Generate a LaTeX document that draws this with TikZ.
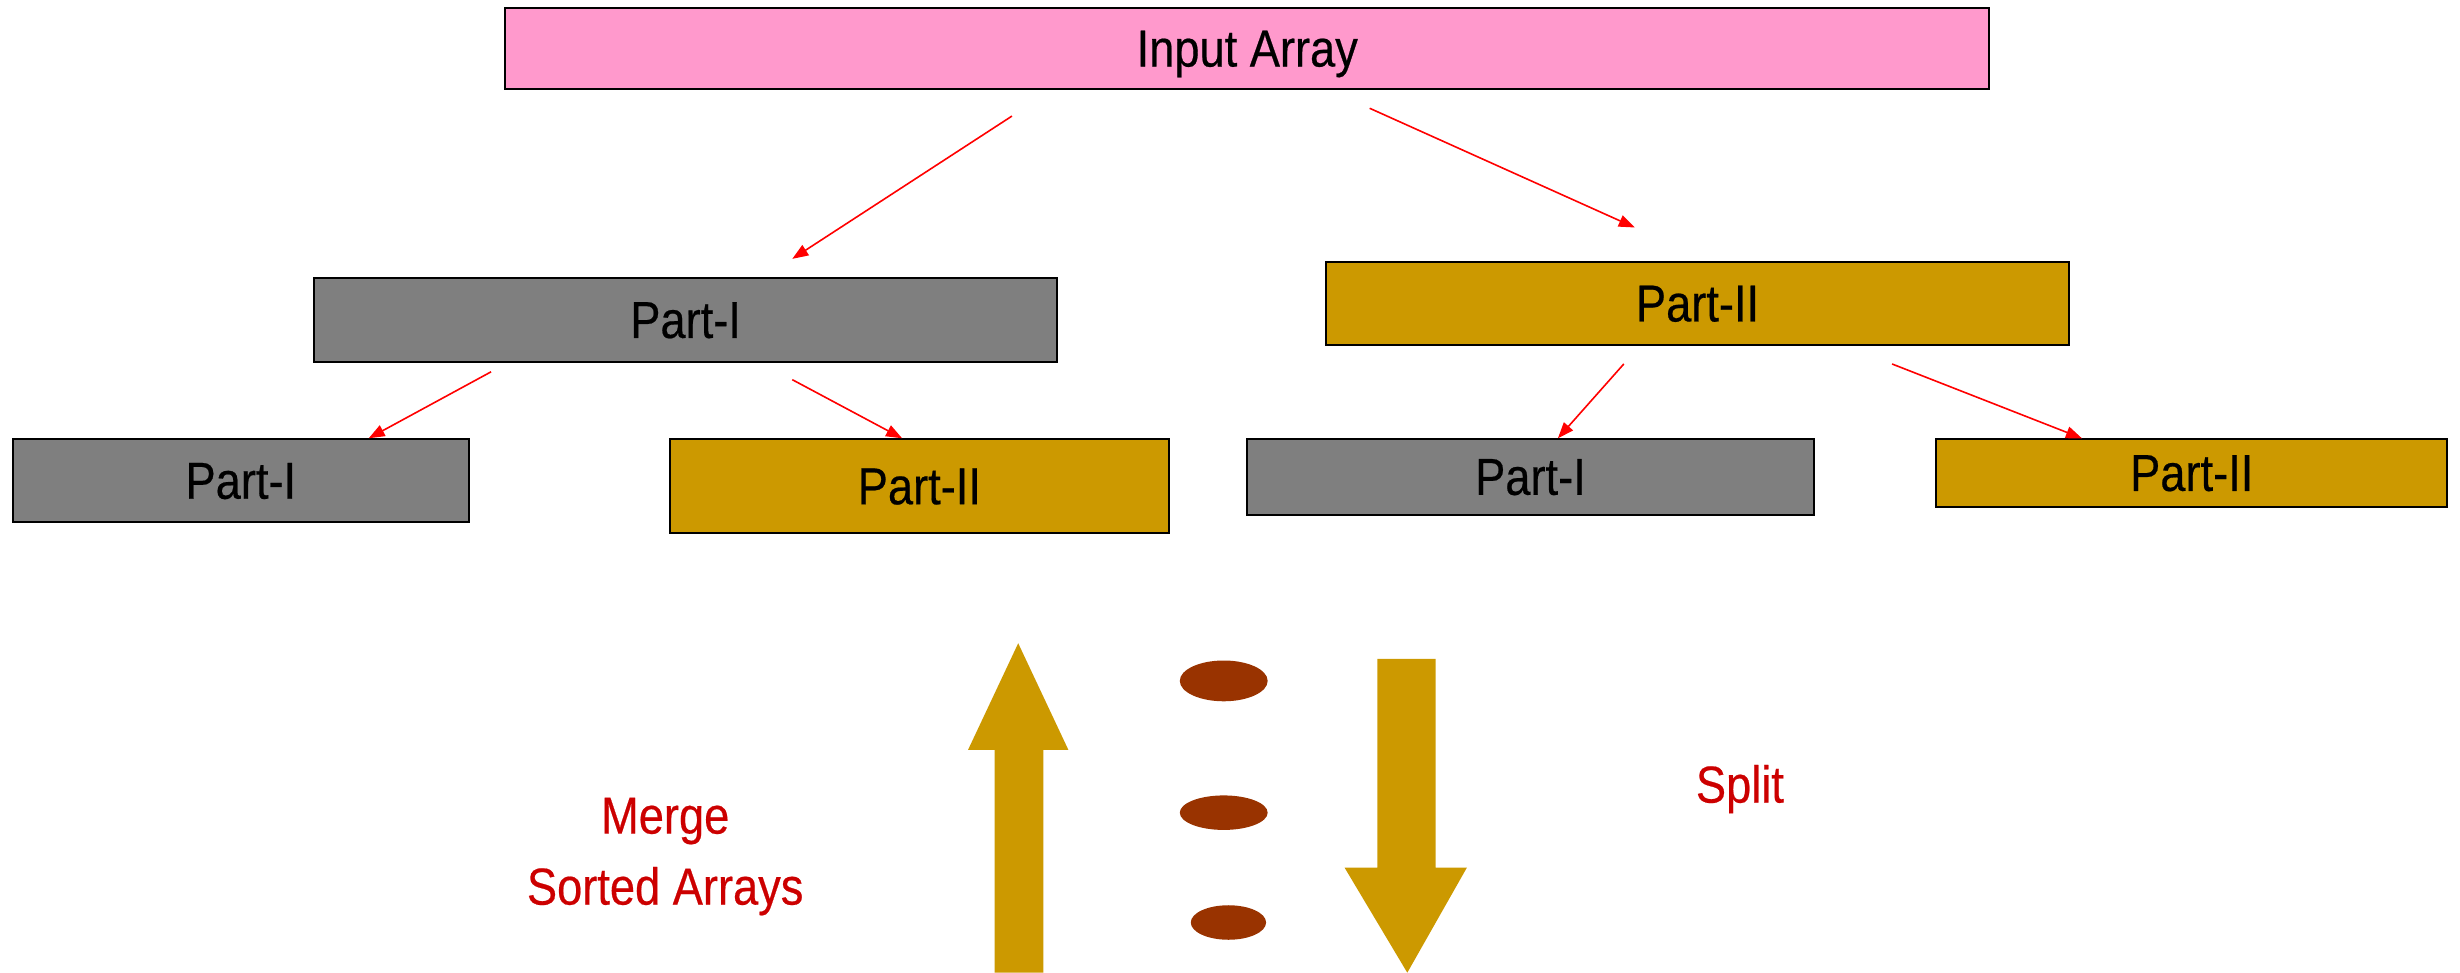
\documentclass[tikz,border=0pt]{standalone}
\usepackage{fontspec}
\setmainfont{Liberation Sans}[FakeStretch=0.87,FakeBold=0.4]
\usetikzlibrary{arrows.meta}
\definecolor{pinkbox}{HTML}{FF99CC}
\definecolor{graybox}{HTML}{7F7F7F}
\definecolor{goldbox}{HTML}{CC9900}
\definecolor{dotbrown}{HTML}{993300}
\definecolor{labelred}{HTML}{CC0000}
\tikzset{
  box/.style={draw=black, line width=1pt, inner sep=0pt, text depth=0pt, font=\fontsize{26}{30}\selectfont, text=black},
  pinkfill/.style={box, fill=pinkbox},
  grayfill/.style={box, fill=graybox},
  goldfill/.style={box, fill=goldbox},
  link/.style={draw=red, line width=0.8pt, -{Triangle[length=8pt,width=6pt]}},
  bigarrow/.style={fill=goldbox, draw=none},
  redlabel/.style={text=labelred, font=\fontsize{26}{35.5}\selectfont, align=center}
}
\begin{document}
\begin{tikzpicture}[x=0.7845pt, y=-0.7845pt]
\useasboundingbox (0,0) rectangle (1568,620);
% boxes
\node[pinkfill, minimum width=946*0.7845pt, minimum height=52*0.7845pt] (input) at (795,31) {Input Array};
\node[grayfill, minimum width=474*0.7845pt, minimum height=54*0.7845pt] (p1) at (437,204) {Part-I};
\node[goldfill, minimum width=474*0.7845pt, minimum height=53*0.7845pt] (p2) at (1082,193.5) {Part-II};
\node[grayfill, minimum width=291*0.7845pt, minimum height=53*0.7845pt] (p11) at (153.5,306.5) {Part-I};
\node[goldfill, minimum width=318*0.7845pt, minimum height=60*0.7845pt] (p12) at (586,310) {Part-II};
\node[grayfill, minimum width=361*0.7845pt, minimum height=48*0.7845pt] (p21) at (975.5,304) {Part-I};
\node[goldfill, minimum width=326*0.7845pt, minimum height=43*0.7845pt] (p22) at (1397,301.5) {Part-II};
% connector end points
\coordinate (a1s) at (645,74);
\coordinate (a1e) at (505,165);
\coordinate (a2s) at (873,69);
\coordinate (a2e) at (1042,145);
\coordinate (b1s) at (313,237);
\coordinate (b2s) at (505,242);
\coordinate (c1s) at (1035,232);
\coordinate (c2s) at (1206,232);
\draw[link] (a1s) -- (a1e);
\draw[link] (a2s) -- (a2e);
\draw[link] (b1s) -- (p11.north -| 235,0);
\draw[link] (b2s) -- (p12.north -| 575,0);
\draw[link] (c1s) -- (p21.north -| 993,0);
\draw[link] (c2s) -- (p22.north -| 1327,0);
% big arrows
\fill[bigarrow] (634,620) -- (634,478) -- (617,478) -- (649,410) -- (681,478) -- (665,478) -- (665,620) -- cycle;
\fill[bigarrow] (878,420) -- (915,420) -- (915,553) -- (935,553) -- (897,620) -- (857,553) -- (878,553) -- cycle;
% dots
\fill[dotbrown] (780,434) ellipse [x radius=28*0.7845pt, y radius=13*0.7845pt];
\fill[dotbrown] (780,518) ellipse [x radius=28*0.7845pt, y radius=11*0.7845pt];
\fill[dotbrown] (783,588) ellipse [x radius=24*0.7845pt, y radius=11*0.7845pt];
% labels
\node[redlabel] (merge) at (424,546) {Merge\\Sorted Arrays};
\node[redlabel] (split) at (1109,503) {Split};
\end{tikzpicture}
\end{document}
